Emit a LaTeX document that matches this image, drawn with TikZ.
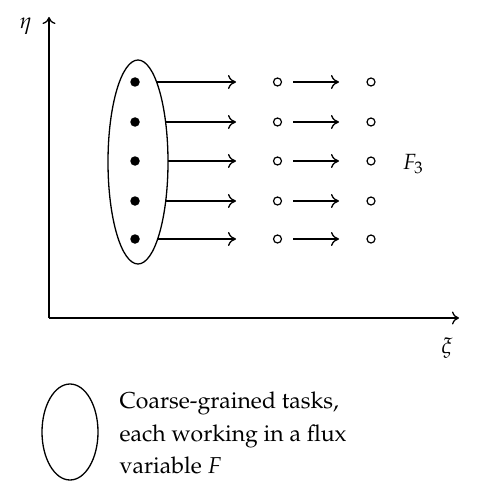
\documentclass[tikz,border=0pt]{standalone}
\usepackage[T1]{fontenc}
\usepackage{mathpazo}
\usetikzlibrary{arrows.meta}
\begin{document}
\begin{tikzpicture}[x=1pt,y=-1pt,
  line width=1.3pt,
  axis/.style={-{To[length=7pt,width=13pt,line width=1.3pt]}},
  flow/.style={-{To[length=8pt,width=14pt,line width=1.3pt]}},
  fulldot/.style={circle,fill=black,inner sep=0pt,minimum size=9.5pt},
  opendot/.style={circle,draw,line width=1.2pt,inner sep=0pt,minimum size=8pt},
  lbl/.style={font=\fontsize{22}{33}\selectfont,inner sep=0pt},
  legtext/.style={font=\fontsize{23}{33}\selectfont,inner sep=0pt,anchor=base west}]
\useasboundingbox (0,0) rectangle (478,500);
% axes
\coordinate (O) at (49,318);
\coordinate (ytop) at (49,17);
\coordinate (xend) at (459,318);
\draw[axis] (O) -- (ytop);
\draw[axis] (O) -- (xend);
\node[lbl] (eta) at (26,26) {$\eta$};
\node[lbl] (xi) at (447,348) {$\xi$};
% big ellipse
\draw (138,162) ellipse [x radius=30, y radius=102];
\node (grp) at (138,162) {};
% rows
\foreach \i/\y/\ex in {1/82/156.6,2/122/165.6,3/161/168,4/201/165.7,5/239/157.7}{
  \node[fulldot] (d\i) at (135,\y) {};
  \coordinate (e\i) at (\ex,\y);
  \coordinate (t\i) at (236,\y);
  \draw[flow] (e\i) -- (t\i);
  \node[opendot] (a\i) at (277.5,\y) {};
  \node[opendot] (b\i) at (371,\y) {};
  \coordinate (s\i) at (293,\y);
  \coordinate (u\i) at (339,\y);
  \draw[flow] (s\i) -- (u\i);
}
\node[lbl] (F3) at (413,164) {$F_{\kern0.6pt 3}$};
% legend
\draw (70,432) ellipse [x radius=28, y radius=48];
\node (leg) at (70,432) {};
\node[legtext] (t1) at (119,408) {Coarse-grained tasks,};
\node[legtext] (t2) at (119,441) {each working in a flux};
\node[legtext] (t3) at (119,473) {variable $F$};
\end{tikzpicture}
\end{document}
